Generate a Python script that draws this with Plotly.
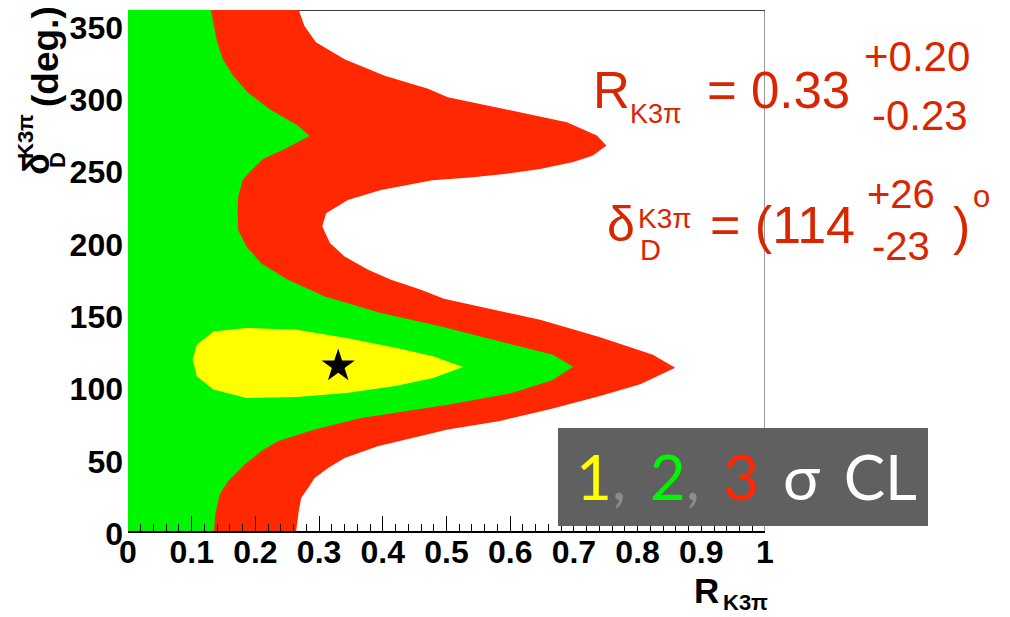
import plotly.graph_objects as go

# ---- confidence-region boundaries (R_K3pi at each delta, degrees) ----
# 3 sigma (outer, red) boundary
delta_3s = [0, 13.7, 22.9, 29.8, 36.7, 43.6, 50.5, 58.5, 64.3, 70.1, 76.0, 84.2,
            93.2, 101.4, 112.8, 121.8, 134.0, 146.0, 160.5, 166.7, 173.6, 180.5,
            189.7, 199.0, 210.4, 219.6, 228.8, 235.7, 242.4, 244.5, 246.8, 250.2,
            254.9, 259.4, 266.3, 273.2, 282.5, 291.7, 299.7, 305.5, 314.6, 326.0,
            337.7, 349.0, 360]
r_3s = [0.264, 0.268, 0.272, 0.283, 0.293, 0.314, 0.340, 0.392, 0.445, 0.502, 0.584, 0.662,
        0.741, 0.804, 0.859, 0.824, 0.740, 0.647, 0.496, 0.460, 0.413, 0.377,
        0.340, 0.317, 0.305, 0.311, 0.345, 0.397, 0.478, 0.542, 0.594, 0.647,
        0.699, 0.730, 0.751, 0.736, 0.689, 0.589, 0.502, 0.471, 0.403, 0.340,
        0.295, 0.277, 0.268]

# 2 sigma (green) boundary
delta_2s = [0, 11.4, 25.2, 34.4, 45.9, 55.1, 62.0, 70.1, 78.1, 87.3, 95.0, 104.0,
            113.5, 121.8, 131.5, 141.4, 150.6, 162.0, 173.6, 185.0, 196.6, 208.0,
            219.6, 231.0, 242.6, 248.0, 257.0, 264.0, 273.0, 280.0, 291.6, 303.0,
            314.6, 326.0, 337.7, 360]
r_2s = [0.135, 0.137, 0.144, 0.157, 0.183, 0.209, 0.235, 0.293, 0.366, 0.502, 0.600, 0.665,
        0.699, 0.667, 0.580, 0.490, 0.397, 0.309, 0.251, 0.209, 0.186, 0.173,
        0.172, 0.173, 0.180, 0.191, 0.212, 0.246, 0.285, 0.267, 0.222, 0.188,
        0.165, 0.149, 0.140, 0.130]

# 1 sigma (yellow) closed contour
r_1s = [0.1015, 0.108, 0.134, 0.186, 0.265, 0.343, 0.422, 0.479, 0.526,
        0.479, 0.422, 0.343, 0.265, 0.186, 0.134, 0.108, 0.1015]
delta_1s = [118.4, 128.7, 137.9, 140.3, 139.1, 133.4, 126.5, 120.7, 113.3,
            105.8, 100.4, 95.4, 92.6, 91.9, 97.7, 106.9, 118.4]

# best-fit point
r_best = 0.33
delta_best = 114
r_err = ("+0.20", "-0.23")
delta_err = ("+26", "-23")

x_ticks = [0, 0.1, 0.2, 0.3, 0.4, 0.5, 0.6, 0.7, 0.8, 0.9, 1]
x_tick_text = ["0", "0.1", "0.2", "0.3", "0.4", "0.5", "0.6", "0.7", "0.8", "0.9", "1"]
y_ticks = [0, 50, 100, 150, 200, 250, 300, 350]

RED = "#ff2800"
GREEN = "#00f500"
YELLOW = "#ffff00"
TXT_RED = "#d92600"

W, H = 1010, 617
L, R_M, T, B = 128, 245, 10, 86
PW, PH = W - L - R_M, H - T - B


def fx(px):
    return (px - L) / PW


def fy(py):
    return (H - B - py) / PH


fig = go.Figure()

# outer 3 sigma region: everything left of the red boundary
fig.add_trace(go.Scatter(x=[0] + r_3s + [0], y=[0] + delta_3s + [360],
                         fill="toself", fillcolor=RED, mode="lines",
                         line=dict(width=0, color=RED), hoverinfo="skip"))
# 2 sigma region
fig.add_trace(go.Scatter(x=[0] + r_2s + [0], y=[0] + delta_2s + [360],
                         fill="toself", fillcolor=GREEN, mode="lines",
                         line=dict(width=0, color=GREEN), hoverinfo="skip"))
# 1 sigma region
fig.add_trace(go.Scatter(x=r_1s, y=delta_1s, fill="toself", fillcolor=YELLOW,
                         mode="lines", line=dict(width=0, color=YELLOW), hoverinfo="skip"))
# best fit
fig.add_trace(go.Scatter(x=[r_best], y=[delta_best], mode="markers",
                         marker=dict(symbol="star", size=25, color="black",
                                     line=dict(width=0))))

fig.update_layout(
    width=W, height=H, margin=dict(l=L, r=R_M, t=T, b=B),
    paper_bgcolor="white", plot_bgcolor="white", showlegend=False,
    font=dict(family="Liberation Sans, Arial, sans-serif", color="black"),
)
fig.update_xaxes(range=[0, 1], tickvals=x_ticks, ticktext=x_tick_text,
                 ticks="inside", ticklen=15, tickwidth=1, tickcolor="black",
                 minor=dict(dtick=0.02, tick0=0, ticks="inside", ticklen=7,
                            tickcolor="black", tickwidth=1, showgrid=False),
                 showline=True, linecolor="black", linewidth=1.5, mirror=False,
                 showgrid=False, zeroline=False,
                 tickfont=dict(size=32, family="Liberation Sans", weight="bold"),
                 ticklabelstandoff=-8)
fig.update_yaxes(range=[0, 360], tickvals=y_ticks, ticks="",
                 showline=False, showgrid=False, zeroline=False,
                 tickfont=dict(size=32, family="Liberation Sans", weight="bold"),
                 ticklabelstandoff=4, ticklabelshift=3)

# frame: top and right edges
fig.add_shape(type="line", xref="x", yref="y", x0=0, x1=1, y0=360, y1=360,
              line=dict(color="black", width=1.5), layer="below")
fig.add_shape(type="line", xref="x", yref="y", x0=1, x1=1, y0=0, y1=360,
              line=dict(color="#333333", width=1), layer="below")

# legend box
fig.add_shape(type="rect", xref="paper", yref="paper",
              x0=fx(558), x1=fx(928), y0=fy(526), y1=fy(428),
              fillcolor="#606060", line=dict(width=0), layer="above")

ann = []


def txt(text, px, py, size, color=TXT_RED, xanchor="left", bold=False,
        angle=0, family="Liberation Sans"):
    ann.append(dict(text=text, x=fx(px), y=fy(py), xref="paper", yref="paper",
                    xanchor=xanchor, yanchor="middle", showarrow=False,
                    textangle=angle,
                    font=dict(size=size, color=color, family=family,
                              weight="bold" if bold else "normal")))


# R = 0.33 +0.20 -0.23
txt("R", 591, 91, 51)
txt("K3\u03c0", 628, 114, 27)
txt(f"= {r_best:.2f}", 705, 91, 51)
txt(r_err[0], 862, 57, 42)
txt(r_err[1], 870, 115, 42)

# delta = (114 +26 -23)^o
txt("\u03b4", 605, 224, 50)
txt("K3\u03c0", 636, 218, 28)
txt("D", 638, 250, 29)
txt(f"= ({delta_best}", 708, 225, 52)
txt(delta_err[0], 865, 194, 40)
txt(delta_err[1], 870, 246, 40)
txt(")", 951, 226, 52)
txt("o", 971, 197, 31)

# legend text
legend_html = (
    f'<span style="color:{YELLOW}">1</span><span style="color:#8c8c8c">,</span> \u2009'
    f'<span style="color:{GREEN}">2</span><span style="color:#8c8c8c">,</span> \u2009'
    f'<span style="color:{RED}">3</span> \u2009'
    '<span style="color:white">\u03c3 \u2009CL</span>'
)
txt(legend_html, 574, 476, 62, color="white", xanchor="left", family="Lato")

# x-axis title
txt("R", 721, 590, 35, color="black", xanchor="right", bold=True)
txt("K3\u03c0", 721, 602, 22, color="black", bold=True)

# y-axis title (rotated)
txt("(deg.)", 46, 57, 37, color="black", xanchor="center", bold=True, angle=-90)
txt("\u03b4", 36, 164, 36, color="black", xanchor="center", bold=True, angle=-90)
txt("K3\u03c0", 25, 137, 22, color="black", xanchor="center", bold=True, angle=-90)
txt("D", 57, 160, 22, color="black", xanchor="center", bold=True, angle=-90)

fig.update_layout(annotations=ann)
fig.write_html("out.html")
